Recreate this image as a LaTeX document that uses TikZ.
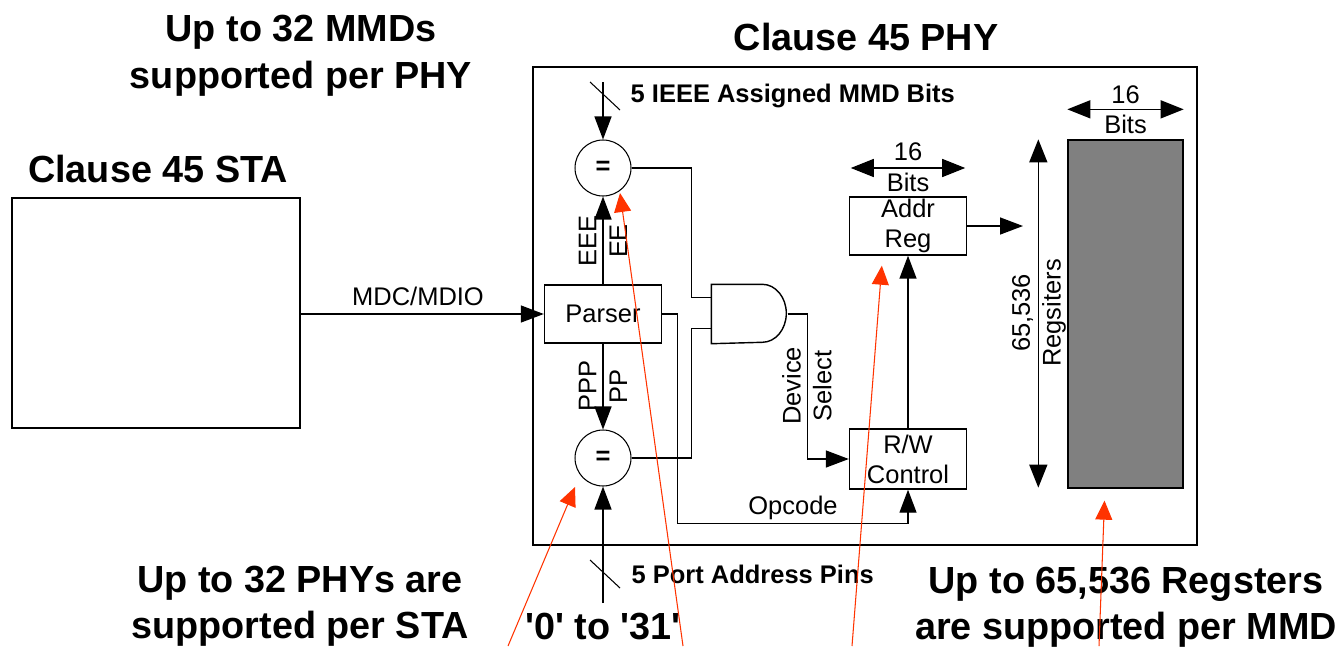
\documentclass[tikz,border=0pt]{standalone}
\usepackage{fontspec}
\setmainfont{Liberation Sans}
\usetikzlibrary{
  positioning,
  arrows.meta,
  calc
}
\definecolor{pointer}{HTML}{FF3300}
\definecolor{regfill}{HTML}{808080}

\begin{document}
\begin{tikzpicture}[
  x=0.02cm, y=-0.02cm,
  line width=0.8pt,
  block/.style={draw, minimum width=2.34cm, minimum height=1.16cm, inner sep=0pt,
               align=center, font=\fontsize{14.5}{17}\selectfont},
  cmp/.style={draw, circle, line width=0.6pt, minimum size=1.12cm, inner sep=0pt,
               font=\fontsize{14.5}{17}\selectfont\bfseries},
  title/.style={font=\fontsize{21.5}{26.5}\selectfont\bfseries, align=center, inner sep=0pt},
  lbl/.style={font=\fontsize{14.5}{17.5}\selectfont, align=center, inner sep=0pt},
  pins/.style={font=\fontsize{14.5}{17.5}\selectfont\bfseries, inner sep=0pt, anchor=base west},
  sig/.style={-{Triangle[length=0.46cm, width=0.34cm]}},
  span/.style={{Triangle[length=0.46cm, width=0.36cm]}-{Triangle[length=0.46cm, width=0.36cm]}},
  note/.style={pointer, line width=0.6pt, -{Triangle[length=0.38cm, width=0.34cm]}},
]
  \useasboundingbox (0,0) rectangle (1344,646);

  \node[title] (mmdnote) at (301,56) {Up to 32 MMDs\\supported per PHY};
  \node[title, anchor=base] (statitle) at (158,182) {Clause 45 STA};
  \node[title, anchor=base] (phytitle) at (866,50) {Clause 45 PHY};
  \node[title] (phynote) at (300,606) {Up to 32 PHYs are\\supported per STA};
  \node[title, anchor=base] (range) at (603,639)
    {\textquotesingle0\textquotesingle{} to \textquotesingle31\textquotesingle};
  \node[title] (regnote) at (1126,607) {Up to 65,536 Regsters\\are supported per MMD};

  \node[draw, minimum width=5.76cm, minimum height=4.6cm] (sta) at (156,313) {};
  \node[draw, minimum width=13.28cm, minimum height=9.56cm] (phy) at (865,306) {};

  \node[block] (parser) at (603,314) {Parser};
  \node[cmp] (eqtop) at (603,168) {=};
  \node[cmp] (eqbot) at (603,458) {=};
  \node[block] (addr) at (908,226) {Addr\\Reg};
  \node[block, minimum height=1.2cm] (rw) at (908,459) {R/W\\Control};
  \node[draw, fill=regfill, minimum width=2.3cm, minimum height=6.96cm] (regs) at (1125.5,314) {};

  \node[minimum width=1.5cm, minimum height=1.16cm, inner sep=0pt] (gate) at (749.5,314) {};
  \draw (gate.north west) -- ++(51,0)
    arc[start angle=90, end angle=-90, x radius=0.48cm, y radius=0.58cm]
    -- (gate.south west) -- cycle;
  \coordinate (gin1) at ($(gate.north west)+(0,13)$);
  \coordinate (gin2) at ($(gate.south west)+(0,-15)$);

  \draw[sig] (sta.east |- parser.west) -- (parser.west);
  \node[lbl] (mdc) at (418,296) {MDC/MDIO};

  \coordinate (mmdin) at (603,82);
  \coordinate (portin) at (603,603);
  \draw[sig] (mmdin) -- (eqtop.north);
  \draw[line width=0.6pt] ($(mmdin)+(-13,0)$) -- ++(30,28);
  \node[pins] (mmdbits) at (630,102) {5 IEEE Assigned MMD Bits};
  \draw[sig] (portin) -- (eqbot.south);
  \draw[line width=0.6pt] ($(portin)+(-13,-43)$) -- ++(30,28);
  \node[pins] (portpins) at (631,583) {5 Port Address Pins};

  \draw[sig] (parser.north) -- (eqtop.south);
  \node[lbl, rotate=90] (eee) at (603,241) {EEE\\EE};
  \draw[sig] (parser.south) -- (eqbot.north);
  \node[lbl, rotate=90] (ppp) at (603,386) {PPP\\PP};

  \draw (eqtop.east) -| ($(gin1)+(-20,0)$) -- (gin1);
  \draw (eqbot.east) -| ($(gin2)+(-20,0)$) -- (gin2);
  \draw[sig] (gate.east) -- ++(20,0) |- (rw.west);
  \node[lbl, rotate=90] (devsel) at (807,386) {Device\\Select};

  \draw[sig] (parser.east) -- ++(15,0) |- ($(rw.south)+(0,34)$) -- (rw.south);
  \node[lbl] (opcode) at (793,508) {Opcode};

  \draw[sig] (rw.north) -- (addr.south);
  \coordinate (addrout) at (1023,226);
  \draw[sig] (addr.east) -- (addrout);

  \draw[span] ($(addr.west)+(2,-58)$) -- ($(addr.east)+(-2,-58)$);
  \node[lbl] (addrbits) at (908,167) {16\\Bits};
  \draw[span] ($(regs.north west)+(0,-30)$) -- ($(regs.north east)+(0,-30)$);
  \node[lbl] (regbits) at (1125.5,109.6) {16\\Bits};
  \draw[span] ($(regs.north west)+(-29,0)$) -- ($(regs.south west)+(-29,-1)$);
  \node[lbl, rotate=90] (regcount) at (1039,313) {65,536\\Regsiters};

  \coordinate (p1) at (508,646);
  \coordinate (p2) at (683,646);
  \coordinate (p3) at (852,646);
  \coordinate (p4) at (1099,646);
  \draw[note] (p1) -- (575,487);
  \draw[note] (p2) -- (620,193);
  \draw[note] (p3) -- ($(addr.south west)+(33,10)$);
  \draw[note] (p4) -- ($(regs.south)+(-21,12)$);
\end{tikzpicture}
\end{document}
